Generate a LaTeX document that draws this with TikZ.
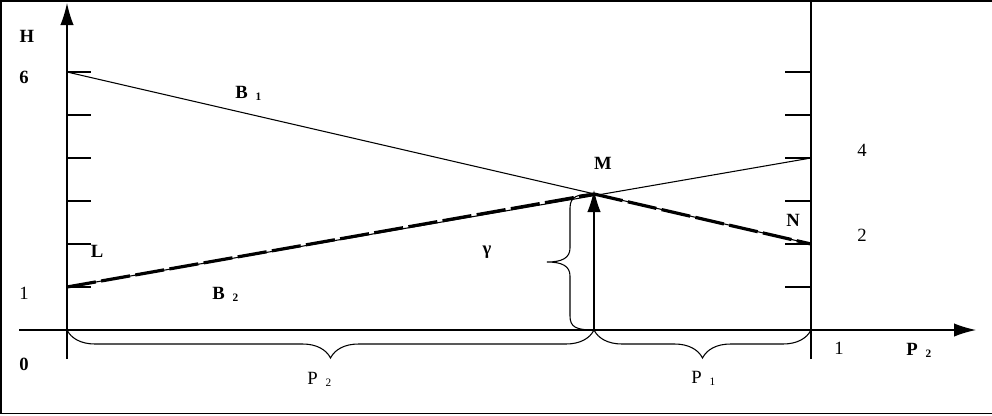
\documentclass[tikz,border=0pt]{standalone}
\usepackage{fontspec}
\setmainfont{Liberation Serif}
\usetikzlibrary{arrows.meta,decorations.pathreplacing}
\newcommand{\lowidx}[1]{\hspace{6pt}\raisebox{-2pt}{\fontsize{8.5}{9}\selectfont #1}}
\begin{document}
\begin{tikzpicture}[x=0.75pt,y=0.75pt,yscale=-1,
    thinline/.style={line width=0.8pt},
    axisline/.style={line width=0.9pt,-{Latex[length=16.5pt,width=10pt]}},
    routeline/.style={line width=2.4pt,dash pattern=on 22pt off 4pt},
    lbl/.style={inner sep=0pt,font=\fontsize{14}{16}\selectfont},
    bracedown/.style={thinline,decorate,decoration={brace,mirror,amplitude=21pt}}]
    \useasboundingbox (0,0) rectangle (992,415);

    %Frame
    \draw [line width=1.2pt] (992,1) -- (1,1) -- (1,413.5) -- (992,413.5);

    %Coordinates
    \coordinate (O) at (67,330);
    \coordinate (Hbot) at (67,359);
    \coordinate (Htop) at (67,3);
    \coordinate (Pbeg) at (19,330);
    \coordinate (Pend) at (976,330);
    \coordinate (Rtop) at (811,0);
    \coordinate (Rbot) at (811,359);
    \coordinate (Rzero) at (811,330);
    \coordinate (S6) at (67,72);
    \coordinate (S1) at (67,287);
    \coordinate (T4) at (811,158);
    \coordinate (T2) at (811,244);
    \coordinate (M) at (594,194);
    \coordinate (Mfoot) at (594,330);
    \coordinate (Mtip) at (594,190);

    %Axes
    \draw [axisline] (Hbot) -- (Htop);
    \draw [axisline] (Pbeg) -- (Pend);
    \draw [thinline] (Rbot) -- (Rtop);
    %Ticks
    \foreach \k in {1,...,6} {
        \draw [thinline] (67,330-43*\k) -- (91,330-43*\k);
        \draw [thinline] (785,330-43*\k) -- (811,330-43*\k);
    }

    %Straight Lines B1, B2
    \draw [thinline] (S6) -- (T2);
    \draw [thinline] (S1) -- (T4);
    %Dashed route L-M-N
    \draw [routeline] (S1) -- (M);
    \draw [routeline] (M) -- (T2);
    %Arrow up to M
    \draw [thinline,-{Latex[length=16.5pt,width=10pt]}] (Mfoot) -- (Mtip);

    %Braces
    \draw [thinline] (M) .. controls (578,194) and (570,196) .. (570,208) -- (570,248) .. controls (570,258) and (562,262) .. (547,262) .. controls (562,262) and (570,266) .. (570,276) -- (570,316) .. controls (570,327) and (576,330) .. (Mfoot);
    \draw [bracedown] (O) -- (Mfoot);
    \draw [bracedown] (Mfoot) -- (Rzero);

    % Text Node
    \node [lbl] (hLbl) at (27,36) {\bfseries H};
    \node [lbl] (sixLbl) at (24,77) {\bfseries 6};
    \node [lbl] (oneLbl) at (24,293) {1};
    \node [lbl] (zeroLbl) at (24,364) {\bfseries 0};
    \node [lbl] (lLbl) at (97,251) {\bfseries L};
    \node [lbl] (mLbl) at (603,163) {\bfseries M};
    \node [lbl] (nLbl) at (793,220) {\bfseries N};
    \node [lbl] (gammaLbl) at (487,252) {\bfseries γ};
    \node [lbl] (fourLbl) at (862,150) {4};
    \node [lbl] (twoLbl) at (862,235) {2};
    \node [lbl] (unitLbl) at (839,348) {1};
    \node [lbl,anchor=base west] (bOneLbl) at (235,98) {\bfseries B\lowidx{1}};
    \node [lbl,anchor=base west] (bTwoLbl) at (212,299) {\bfseries B\lowidx{2}};
    \node [lbl,anchor=base west] (pTwoLbl) at (307,384) {P\lowidx{2}};
    \node [lbl,anchor=base west] (pOneLbl) at (691,383) {P\lowidx{1}};
    \node [lbl,anchor=base west] (axisLbl) at (906,355) {\bfseries P\lowidx{2}};
\end{tikzpicture}
\end{document}
